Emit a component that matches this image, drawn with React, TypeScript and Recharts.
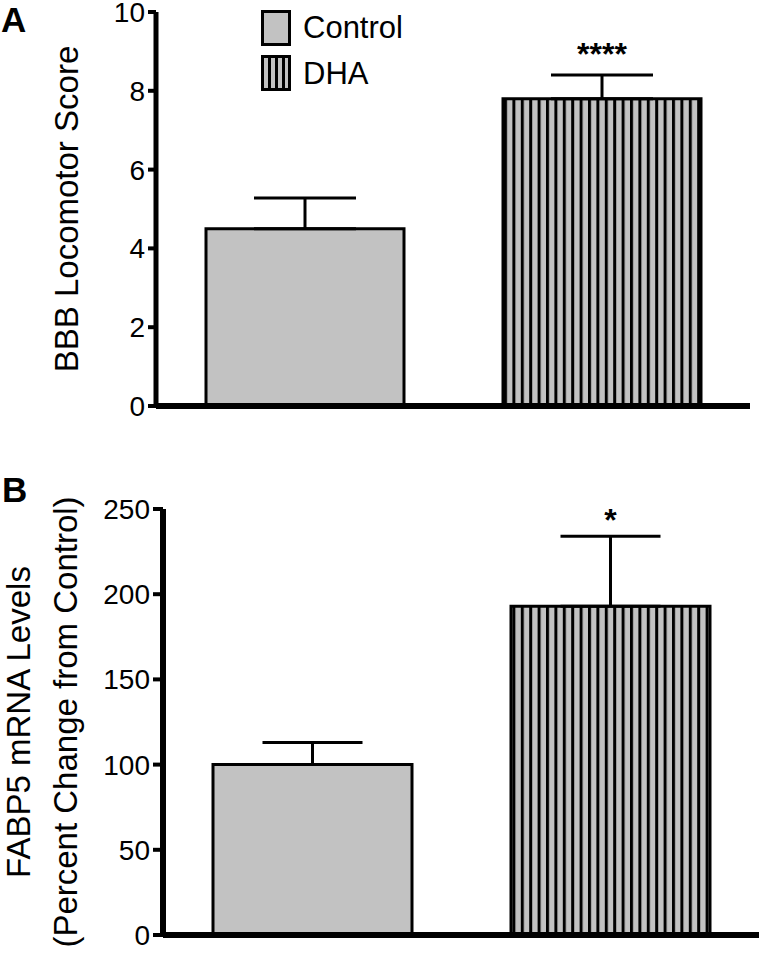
import React from 'react';
import { BarChart, Bar, XAxis, YAxis, Cell, ErrorBar, LabelList, Legend } from 'recharts';

const groups = ['Control', 'DHA'];

// panel A: BBB locomotor score
const bbbMean = [4.5, 7.8];
const bbbSem = [0.78, 0.6];
const bbbSig = ['', '****'];
const bbbTicks = [0, 2, 4, 6, 8, 10];

// panel B: FABP5 mRNA, % of control
const fabpMean = [100, 193];
const fabpSem = [13, 41];
const fabpSig = ['', '*'];
const fabpTicks = [0, 50, 100, 150, 200, 250];

const FONT = '"Liberation Sans", Arial, Helvetica, sans-serif';
const GREY = '#c2c2c2';

const toRows = (mean: number[], sem: number[], sig: string[]) =>
  groups.map((g, i) => ({ group: g, mean: mean[i], err: [0, sem[i]], sig: sig[i] }));

const bbbData = toRows(bbbMean, bbbSem, bbbSig);
const fabpData = toRows(fabpMean, fabpSem, fabpSig);

const Stripes = ({ id, period }: { id: string; period: number }) => (
  <defs>
    <pattern id={id} width={period} height={10} patternUnits="userSpaceOnUse">
      <rect width={period} height={10} fill={GREY} />
      <rect x={0} width={3} height={10} fill="#000" />
    </pattern>
  </defs>
);

const renderTick = (props: any) => {
  const { x, y, payload } = props;
  return (
    <text x={x} y={y} dy="0.36em" textAnchor="end" fontSize={28} fontFamily={FONT} fill="#000">
      {payload.value}
    </text>
  );
};

const sigLabel = (mean: number[], sem: number[], sig: string[], dy: number) => (props: any) => {
  const { x, y, width, height, index, value } = props;
  if (!value) return null;
  const i = typeof index === 'number' ? index : sig.indexOf(value);
  const errPx = (Math.abs(height) / mean[i]) * sem[i];
  return (
    <text x={x + width / 2} y={y - errPx - dy} textAnchor="middle" fontSize={32} fontWeight="bold" fontFamily={FONT} fill="#000">
      {value}
    </text>
  );
};

const renderLegend = () => (
  <div style={{ position: 'relative', width: 220, height: 100, fontFamily: FONT }}>
    {groups.map((g, i) => (
      <React.Fragment key={g}>
        <svg style={{ position: 'absolute', left: 3, top: 2 + i * 44.5 }} width={30} height={37}>
          <defs>
            <pattern id="legStripes" width={7} height={10} patternUnits="userSpaceOnUse">
              <rect width={7} height={10} fill={GREY} />
              <rect x={0} width={3} height={10} fill="#000" />
            </pattern>
          </defs>
          <rect x={1.5} y={1.5} width={27} height={33} fill={i === 0 ? GREY : 'url(#legStripes)'} stroke="#000" strokeWidth={3} />
        </svg>
        <div style={{ position: 'absolute', left: 45, top: 3.5 + i * 46, fontSize: 31, lineHeight: '31px', whiteSpace: 'nowrap' }}>
          {g}
        </div>
      </React.Fragment>
    ))}
  </div>
);

export default function App() {
  return (
    <div style={{ position: 'absolute', left: 0, top: 0, width: 760, height: 964, background: '#fff', fontFamily: FONT }}>
      <div style={{ position: 'absolute', left: 1, top: 2, fontSize: 35, lineHeight: '35px', fontWeight: 'bold' }}>A</div>
      <div style={{ position: 'absolute', left: 2, top: 472, fontSize: 35, lineHeight: '35px', fontWeight: 'bold' }}>B</div>

      <div style={{ position: 'absolute', left: 0, top: 0 }}>
        <BarChart width={760} height={440} data={bbbData} margin={{ top: 12, right: 10, bottom: 32, left: 0 }} style={{ overflow: 'visible' }}>
          <Stripes id="stripesA" period={8.4} />
          <XAxis dataKey="group" tick={false} tickLine={false} height={2} axisLine={{ stroke: '#000', strokeWidth: 6 }} />
          <YAxis
            type="number"
            domain={[0, 10]}
            ticks={bbbTicks}
            interval={0}
            width={156}
            axisLine={{ stroke: '#000', strokeWidth: 5 }}
            tickLine={{ stroke: '#000', strokeWidth: 4 }}
            tickSize={8}
            tickMargin={3}
            tick={renderTick}
            label={{
              content: () => (
                <text transform="translate(66,209) rotate(-90)" textAnchor="middle" dominantBaseline="central" fontSize={33} fontFamily={FONT} fill="#000">
                  BBB Locomotor Score
                </text>
              ),
            }}
          />
          <Legend
            layout="horizontal"
            verticalAlign="middle"
            align="center"
            content={renderLegend}
            wrapperStyle={{ position: 'absolute', left: 258, top: 8, width: 220, height: 100 }}
          />
          <Bar dataKey="mean" barSize={198} stroke="#000" strokeWidth={3} isAnimationActive={false}>
            {bbbData.map((d, i) => (
              <Cell key={d.group} fill={i === 0 ? GREY : 'url(#stripesA)'} />
            ))}
            <ErrorBar dataKey="err" direction="y" width={51} stroke="#000" strokeWidth={3} />
            <LabelList dataKey="sig" content={sigLabel(bbbMean, bbbSem, bbbSig, 10)} />
          </Bar>
        </BarChart>
      </div>

      <div style={{ position: 'absolute', left: 0, top: 440 }}>
        <BarChart width={760} height={524} data={fabpData} margin={{ top: 69, right: 1, bottom: 27, left: 0 }} style={{ overflow: 'visible' }}>
          <Stripes id="stripesB" period={8.4} />
          <XAxis dataKey="group" tick={false} tickLine={false} height={2} axisLine={{ stroke: '#000', strokeWidth: 6 }} />
          <YAxis
            type="number"
            domain={[0, 250]}
            ticks={fabpTicks}
            interval={0}
            width={163}
            axisLine={{ stroke: '#000', strokeWidth: 6 }}
            tickLine={{ stroke: '#000', strokeWidth: 4 }}
            tickSize={10}
            tickMargin={3}
            tick={renderTick}
            label={{
              content: () => (
                <g>
                  <text transform="translate(18,282) rotate(-90)" textAnchor="middle" dominantBaseline="central" fontSize={33} fontFamily={FONT} fill="#000">
                    FABP5 mRNA Levels
                  </text>
                  <text transform="translate(65,282) rotate(-90)" textAnchor="middle" dominantBaseline="central" fontSize={33} fontFamily={FONT} fill="#000">
                    (Percent Change from Control)
                  </text>
                </g>
              ),
            }}
          />
          <Bar dataKey="mean" barSize={199} stroke="#000" strokeWidth={3} isAnimationActive={false}>
            {fabpData.map((d, i) => (
              <Cell key={d.group} fill={i === 0 ? GREY : 'url(#stripesB)'} />
            ))}
            <ErrorBar dataKey="err" direction="y" width={50} stroke="#000" strokeWidth={3} />
            <LabelList dataKey="sig" content={sigLabel(fabpMean, fabpSem, fabpSig, 5)} />
          </Bar>
        </BarChart>
      </div>
    </div>
  );
}
